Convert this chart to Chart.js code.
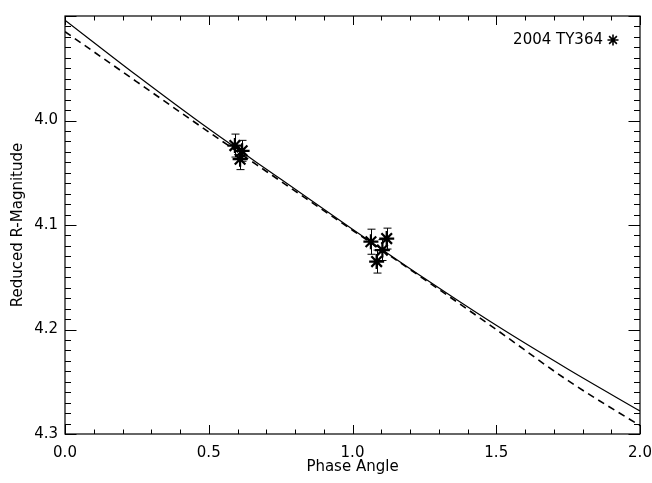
<!DOCTYPE html>
<html>
<head>
<meta charset="utf-8">
<script src="https://cdn.jsdelivr.net/npm/chart.js@4.4.1/dist/chart.umd.min.js"></script>
<style>
  body { margin: 0; background: #fff; }
  #wrap { width: 652px; height: 483px; }
</style>
</head>
<body>
<div id="wrap"><canvas id="chartId" width="652" height="483"></canvas></div>
<script>
// observed points
var obsPhase = [0.591, 0.616, 0.609, 1.064, 1.119, 1.104, 1.084];
var obsMag = [4.024, 4.029, 4.037, 4.116, 4.113, 4.124, 4.135];
var obsErr = [0.011, 0.010, 0.010, 0.012, 0.010, 0.010, 0.011];

// fitted phase curves
var fitPhase = [0, 0.25, 0.5, 0.75, 1.0, 1.25, 1.5, 1.75, 2.0];
var fitSolid = [3.904, 3.957, 4.008, 4.056, 4.104, 4.151, 4.196, 4.238, 4.278];
var fitDashed = [3.915, 3.963, 4.011, 4.058, 4.105, 4.152, 4.200, 4.249, 4.292];

var objectName = "2004 TY364";
var fontFamily = "'DejaVu Sans', sans-serif";

function toPoints(xs, ys) {
    return xs.map(function(x, i) { return { x: x, y: ys[i] }; });
}

function isMultiple(value, step) {
    var r = value / step;
    return Math.abs(r - Math.round(r)) < 1e-6;
}

// frame, inward ticks on all four sides, error bars and the legend entry
var framePlugin = {
    id: 'frame',
    beforeDatasetsDraw: function(chart) {
        var ctx = chart.ctx;
        var xs = chart.scales.x;
        var ys = chart.scales.y;
        ctx.save();
        ctx.strokeStyle = '#000';
        ctx.lineWidth = 1;
        obsPhase.forEach(function(p, i) {
            var px = Math.round(xs.getPixelForValue(p)) + 0.5;
            var top = ys.getPixelForValue(obsMag[i] - obsErr[i]);
            var bot = ys.getPixelForValue(obsMag[i] + obsErr[i]);
            ctx.beginPath();
            ctx.moveTo(px, top);
            ctx.lineTo(px, bot);
            ctx.moveTo(px - 4, top);
            ctx.lineTo(px + 4, top);
            ctx.moveTo(px - 4, bot);
            ctx.lineTo(px + 4, bot);
            ctx.stroke();
        });
        ctx.restore();
    },
    afterDraw: function(chart) {
        var ctx = chart.ctx;
        var a = chart.chartArea;
        var xs = chart.scales.x;
        var ys = chart.scales.y;
        ctx.save();
        ctx.strokeStyle = '#000';
        ctx.lineWidth = 1.2;
        ctx.strokeRect(a.left, a.top, a.right - a.left, a.bottom - a.top);
        ctx.lineWidth = 1;
        ctx.beginPath();
        xs.ticks.forEach(function(t) {
            var px = Math.round(xs.getPixelForValue(t.value)) + 0.5;
            var len = isMultiple(t.value, 0.5) ? 9 : 4.5;
            ctx.moveTo(px, a.bottom);
            ctx.lineTo(px, a.bottom - len);
            ctx.moveTo(px, a.top);
            ctx.lineTo(px, a.top + len);
        });
        ys.ticks.forEach(function(t) {
            var py = Math.round(ys.getPixelForValue(t.value)) + 0.5;
            var len = isMultiple(t.value, 0.1) ? 11.5 : 6;
            ctx.moveTo(a.left, py);
            ctx.lineTo(a.left + len, py);
            ctx.moveTo(a.right, py);
            ctx.lineTo(a.right - len, py);
        });
        ctx.stroke();

        // legend entry in the upper right corner
        ctx.fillStyle = '#000';
        ctx.font = '15px ' + fontFamily;
        ctx.textAlign = 'right';
        ctx.textBaseline = 'middle';
        ctx.fillText(objectName, 603, 40);
        ctx.lineWidth = 1.6;
        Chart.helpers.drawPoint(ctx, { pointStyle: 'star', radius: 5.5, borderWidth: 1.6 }, 613, 40);
        ctx.restore();
    }
};

var chart = new Chart(document.getElementById('chartId').getContext('2d'), {
    type: 'scatter',
    data: {
        datasets: [{
            type: 'line',
            data: toPoints(fitPhase, fitSolid),
            borderColor: '#000',
            borderWidth: 1.2,
            pointRadius: 0,
            cubicInterpolationMode: 'monotone',
            fill: false
        }, {
            type: 'line',
            data: toPoints(fitPhase, fitDashed),
            borderColor: '#000',
            borderWidth: 1.6,
            borderDash: [7, 5],
            pointRadius: 0,
            cubicInterpolationMode: 'monotone',
            fill: false
        }, {
            data: toPoints(obsPhase, obsMag),
            pointStyle: 'star',
            pointRadius: 7.5,
            pointBorderWidth: 2.2,
            borderColor: '#000',
            backgroundColor: '#000'
        }]
    },
    options: {
        responsive: false,
        animation: false,
        devicePixelRatio: 1,
        layout: { padding: { top: 11, right: 0, left: 0, bottom: 0 } },
        plugins: {
            legend: { display: false },
            tooltip: { enabled: false }
        },
        scales: {
            x: {
                type: 'linear',
                min: 0,
                max: 2,
                grid: { display: false, drawTicks: false },
                border: { display: false },
                ticks: {
                    stepSize: 0.1,
                    autoSkip: false,
                    maxRotation: 0,
                    padding: 10,
                    color: '#000',
                    font: { family: fontFamily, size: 15 },
                    callback: function(value) {
                        return isMultiple(value, 0.5) ? value.toFixed(1) : '';
                    }
                },
                title: {
                    display: true,
                    text: 'Phase Angle',
                    color: '#000',
                    font: { family: fontFamily, size: 15 },
                    padding: { top: 0, bottom: 7 }
                },
                afterFit: function(scale) {
                    scale.height = 49;
                    scale.paddingRight = 12;
                }
            },
            y: {
                type: 'linear',
                min: 3.9,
                max: 4.3,
                reverse: true,
                grid: { display: false, drawTicks: false },
                border: { display: false },
                ticks: {
                    stepSize: 0.01,
                    autoSkip: false,
                    padding: 7,
                    color: '#000',
                    font: { family: fontFamily, size: 15 },
                    callback: function(value) {
                        if (value < 3.95 || !isMultiple(value, 0.1)) return '';
                        return value.toFixed(1);
                    }
                },
                title: {
                    display: true,
                    text: 'Reduced R-Magnitude',
                    color: '#000',
                    font: { family: fontFamily, size: 15 },
                    padding: { top: 9, bottom: 0 }
                },
                afterFit: function(scale) { scale.width = 65; }
            }
        }
    },
    plugins: [framePlugin]
});
</script>
</body>
</html>
